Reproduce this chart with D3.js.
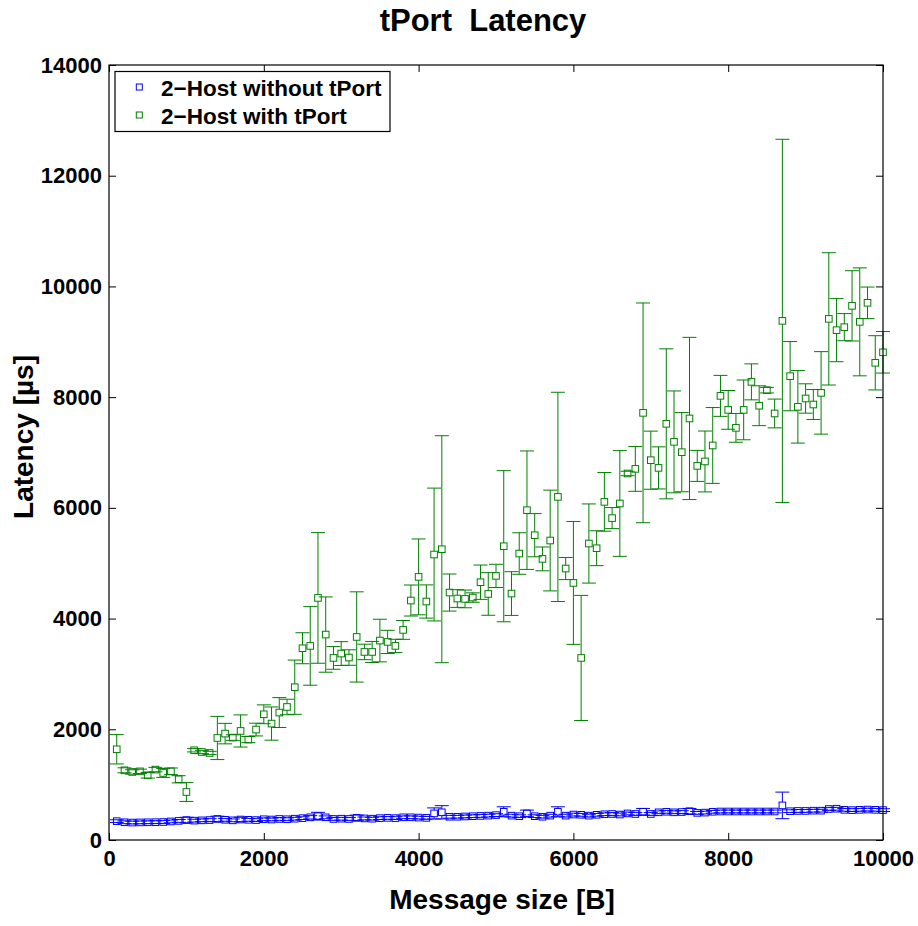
<!DOCTYPE html>
<html>
<head>
<meta charset="utf-8">
<title>tPort Latency</title>
<script src="https://cdn.jsdelivr.net/npm/d3@7/dist/d3.min.js"></script>
<style>
    body { margin: 0; background: #fff; }
    text { font-family: "Liberation Sans", Arial, Helvetica, sans-serif; font-weight: bold; }
</style>
</head>
<body>
<script>
    // message sizes 100 .. 10000 B
    var sizes = d3.range(100, 10001, 100);

    // 2-Host without tPort (latency, half error)
    var noTportMean = [340, 320, 315, 318, 320, 322, 325, 335, 345, 360,
                       350, 355, 360, 380, 365, 355, 370, 365, 360, 375,
                       370, 380, 375, 385, 395, 410, 430, 410, 380, 385,
                       380, 400, 390, 385, 395, 400, 395, 410, 410, 405,
                       400, 480, 500, 420, 420, 425, 430, 435, 440, 450,
                       510, 440, 430, 480, 430, 420, 440, 510, 440, 460,
                       455, 440, 455, 465, 470, 460, 480, 470, 510, 470,
                       500, 510, 500, 505, 520, 490, 495, 510, 515, 515,
                       515, 515, 515, 515, 515, 515, 625, 520, 525, 525,
                       530, 530, 560, 565, 545, 540, 545, 550, 545, 540];
    var noTportErr  = [25, 25, 25, 25, 25, 25, 25, 25, 25, 50,
                       25, 25, 25, 50, 25, 25, 40, 25, 25, 25,
                       25, 25, 25, 25, 25, 30, 70, 25, 25, 25,
                       25, 50, 25, 25, 25, 25, 25, 25, 25, 25,
                       25, 100, 120, 25, 25, 25, 25, 25, 25, 25,
                       90, 25, 25, 60, 25, 25, 25, 90, 25, 25,
                       25, 25, 25, 25, 25, 25, 25, 25, 60, 25,
                       25, 25, 25, 25, 50, 25, 25, 25, 25, 25,
                       25, 25, 25, 25, 25, 25, 240, 25, 25, 25,
                       25, 25, 25, 25, 25, 25, 25, 25, 25, 25];

    // 2-Host with tPort
    var tportMean = [1639, 1259, 1229, 1240, 1169, 1272, 1211, 1241, 1097, 867,
                     1621, 1590, 1572, 1843, 1922, 1850, 1970, 1814, 1995, 2271,
                     2103, 2302, 2403, 2760, 3464, 3506, 4373, 3711, 3289, 3368,
                     3296, 3668, 3397, 3397, 3603, 3578, 3506, 3795, 4326, 4753,
                     4308, 5157, 5253, 4470, 4362, 4355, 4380, 4657, 4445, 4771,
                     5307, 4452, 5175, 5958, 5506, 5078, 5410, 6198, 4904, 4644,
                     3289, 5356, 5271, 6108, 5815, 6079, 6621, 6704, 7716, 6861,
                     6722, 7518, 7192, 7006, 7615, 6758, 6838, 7127, 8023, 7770,
                     7445, 7770, 8276, 7845, 8126, 7705, 9378, 8379, 7825, 7976,
                     7867, 8077, 9414, 9210, 9264, 9649, 9360, 9704, 8620, 8810];
    var tportErr  = [265, 45, 40, 40, 50, 40, 80, 60, 65, 170,
                     30, 30, 30, 390, 185, 50, 290, 55, 115, 170,
                     300, 270, 140, 490, 280, 710, 1180, 680, 205, 215,
                     140, 815, 140, 190, 385, 210, 120, 170, 280, 685,
                     300, 1200, 2050, 335, 160, 160, 85, 310, 385, 210,
                     1365, 395, 375, 1070, 390, 215, 910, 1890, 200, 1110,
                     1130, 715, 315, 530, 190, 955, 40, 405, 1985, 525,
                     380, 1355, 920, 715, 1465, 280, 550, 685, 370, 350,
                     260, 540, 325, 360, 50, 260, 3280, 625, 655, 265,
                     270, 745, 1195, 570, 245, 635, 975, 285, 490, 375];

    var xTicks = [0, 2000, 4000, 6000, 8000, 10000];
    var yTicks = [0, 2000, 4000, 6000, 8000, 10000, 12000, 14000];

    var seriesNames = ["2\u2212Host without tPort", "2\u2212Host with tPort"];
    var seriesColors = ["#0000ff", "#008000"];

    var W = 918, H = 926;
    var plotL = 109, plotR = 883, plotT = 65, plotB = 840;

    var svg = d3.select("body").append("svg")
        .attr("width", W)
        .attr("height", H);

    var x = d3.scaleLinear().domain([0, 10000]).range([plotL, plotR]);
    var y = d3.scaleLinear().domain([0, 14000]).range([plotB, plotT]);

    // axes, ticks pointing inward
    var xAxis = svg.append("g")
        .attr("transform", "translate(0," + plotB + ")")
        .call(d3.axisBottom(x).tickValues(xTicks).tickFormat(d3.format("d"))
            .tickSizeInner(-7).tickSizeOuter(0).tickPadding(10));
    var xTop = svg.append("g")
        .attr("transform", "translate(0," + plotT + ")")
        .call(d3.axisTop(x).tickValues(xTicks)
            .tickSizeInner(-7).tickSizeOuter(0).tickFormat(""));
    var yAxis = svg.append("g")
        .attr("transform", "translate(" + plotL + ",0)")
        .call(d3.axisLeft(y).tickValues(yTicks).tickFormat(d3.format("d"))
            .tickSizeInner(-7).tickSizeOuter(0).tickPadding(7));
    var yRight = svg.append("g")
        .attr("transform", "translate(" + plotR + ",0)")
        .call(d3.axisRight(y).tickValues(yTicks)
            .tickSizeInner(-7).tickSizeOuter(0).tickFormat(""));

    [xAxis, xTop, yAxis, yRight].forEach(function(g) {
        g.select(".domain").remove();
        g.selectAll(".tick line").attr("stroke", "#000").attr("stroke-width", 1);
    });
    svg.selectAll(".tick text")
        .attr("fill", "#000")
        .style("font-size", "22px");

    // error bars + markers
    var half = 3.3;   // marker half size
    var cap = 7;      // cap half width

    function drawSeries(mean, err, color) {
        var data = sizes.map(function(s, i) {
            return {x: s, y: mean[i], e: err[i]};
        });
        var g = svg.append("g")
            .attr("stroke", color)
            .attr("fill", "none")
            .attr("stroke-width", 1);

        var bars = g.selectAll("g.eb").data(data).enter().append("g").attr("class", "eb");
        // vertical parts, split around the marker
        bars.append("line")
            .attr("x1", d => x(d.x)).attr("x2", d => x(d.x))
            .attr("y1", d => y(d.y + d.e))
            .attr("y2", d => Math.max(y(d.y + d.e), y(d.y) - half));
        bars.append("line")
            .attr("x1", d => x(d.x)).attr("x2", d => x(d.x))
            .attr("y1", d => y(d.y - d.e))
            .attr("y2", d => Math.min(y(d.y - d.e), y(d.y) + half));
        bars.append("line")
            .attr("x1", d => x(d.x) - cap).attr("x2", d => x(d.x) + cap)
            .attr("y1", d => y(d.y + d.e)).attr("y2", d => y(d.y + d.e));
        bars.append("line")
            .attr("x1", d => x(d.x) - cap).attr("x2", d => x(d.x) + cap)
            .attr("y1", d => y(d.y - d.e)).attr("y2", d => y(d.y - d.e));

        g.selectAll("rect").data(data).enter().append("rect")
            .attr("x", d => x(d.x) - half)
            .attr("y", d => y(d.y) - half)
            .attr("width", half * 2)
            .attr("height", half * 2);
    }

    drawSeries(noTportMean, noTportErr, seriesColors[0]);
    drawSeries(tportMean, tportErr, seriesColors[1]);

    // frame
    svg.append("rect")
        .attr("x", plotL).attr("y", plotT)
        .attr("width", plotR - plotL).attr("height", plotB - plotT)
        .attr("fill", "none").attr("stroke", "#000").attr("stroke-width", 1.2);

    // legend
    var legend = svg.append("g");
    legend.append("rect")
        .attr("x", 115).attr("y", 71.5)
        .attr("width", 275).attr("height", 60)
        .attr("fill", "#fff").attr("stroke", "#000").attr("stroke-width", 1.2);
    seriesNames.forEach(function(name, i) {
        var ly = 87 + i * 28;
        legend.append("rect")
            .attr("x", 139.3 - 3).attr("y", ly - 3)
            .attr("width", 6).attr("height", 6)
            .attr("fill", "none").attr("stroke", seriesColors[i]).attr("stroke-width", 1);
        legend.append("text")
            .attr("x", 161).attr("y", ly + 9)
            .style("font-size", "22.5px")
            .text(name);
    });

    // titles
    svg.append("text")
        .attr("x", 483).attr("y", 31)
        .attr("text-anchor", "middle")
        .style("font-size", "31px")
        .style("white-space", "pre")
        .text("tPort  Latency");
    svg.append("text")
        .attr("x", 502).attr("y", 909)
        .attr("text-anchor", "middle")
        .style("font-size", "28px")
        .text("Message size [B]");
    svg.append("text")
        .attr("transform", "translate(33,437) rotate(-90)")
        .attr("text-anchor", "middle")
        .style("font-size", "28px")
        .text("Latency [\u00b5s]");
</script>
</body>
</html>
